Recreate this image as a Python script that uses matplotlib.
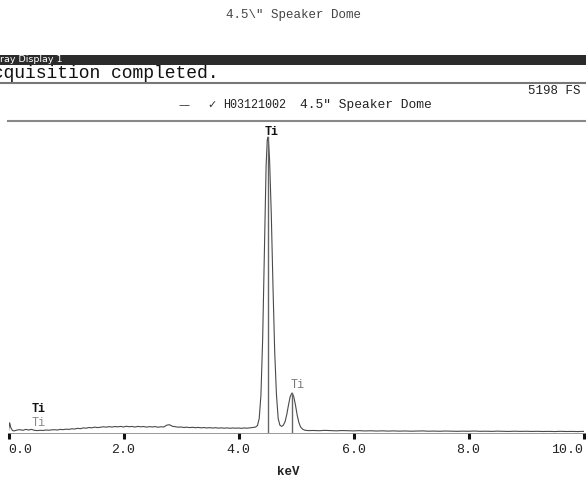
import matplotlib
matplotlib.use("Agg")
import matplotlib.pyplot as plt
from matplotlib.patches import Rectangle
from matplotlib.lines import Line2D

# spectrum (keV, counts), full scale 5198
energy = [0.00, 0.02, 0.04, 0.07, 0.10, 0.15, 0.20, 0.25, 0.30, 0.35, 0.40, 0.45,
          0.50, 0.55, 0.60, 0.65, 0.70, 0.75, 0.80, 0.85, 0.90, 0.95, 1.00, 1.05,
          1.10, 1.15, 1.20, 1.25, 1.30, 1.35, 1.40, 1.45, 1.50, 1.55, 1.60, 1.65,
          1.70, 1.75, 1.80, 1.85, 1.90, 1.95, 2.00, 2.05, 2.10, 2.15, 2.20, 2.25,
          2.30, 2.35, 2.40, 2.45, 2.50, 2.55, 2.60, 2.65, 2.70, 2.75, 2.80, 2.85,
          2.90, 2.95, 3.00, 3.05, 3.10, 3.15, 3.20, 3.25, 3.30, 3.35, 3.40, 3.45,
          3.50, 3.55, 3.60, 3.65, 3.70, 3.75, 3.80, 3.85, 3.90, 3.95, 4.00, 4.05,
          4.10, 4.15, 4.20, 4.25, 4.30, 4.33, 4.36, 4.39, 4.42, 4.45, 4.48, 4.50,
          4.51, 4.52, 4.54, 4.57, 4.60, 4.63, 4.66, 4.69, 4.72, 4.75, 4.78, 4.81,
          4.84, 4.87, 4.90, 4.93, 4.96, 4.99, 5.02, 5.05, 5.08, 5.12, 5.16, 5.22,
          5.30, 5.40, 5.50, 5.60, 5.70, 5.80, 5.90, 6.00, 6.10, 6.20, 6.30, 6.40,
          6.50, 6.60, 6.70, 6.80, 6.90, 7.00, 7.10, 7.20, 7.30, 7.40, 7.50, 7.60,
          7.70, 7.80, 7.90, 8.00, 8.10, 8.20, 8.30, 8.40, 8.50, 8.60, 8.70, 8.80,
          8.90, 9.00, 9.10, 9.20, 9.30, 9.40, 9.50, 9.60, 9.70, 9.80, 9.90, 10.00]
counts = [30, 170, 90, 40, 35, 50, 55, 45, 60, 50, 60, 45,
          40, 45, 42, 50, 46, 52, 55, 50, 60, 56, 64, 60,
          70, 66, 78, 72, 85, 80, 92, 86, 98, 90, 96, 104,
          97, 106, 99, 108, 102, 110, 100, 112, 104, 109, 99, 110,
          103, 108, 98, 106, 101, 107, 96, 104, 100, 130, 138, 112,
          104, 97, 100, 92, 97, 90, 95, 88, 93, 86, 91, 84,
          89, 83, 88, 81, 86, 80, 85, 79, 84, 80, 83, 78,
          84, 80, 86, 92, 100, 125, 240, 630, 1560, 3030, 4450, 4880,
          4930, 4880, 4560, 3650, 2430, 1340, 640, 240, 130, 110, 130, 190,
          310, 470, 610, 666, 610, 470, 300, 175, 100, 60, 45, 40,
          42, 38, 44, 40, 36, 41, 38, 35, 39, 34, 37, 33,
          36, 32, 35, 31, 34, 30, 33, 35, 30, 32, 29, 33,
          30, 28, 31, 29, 33, 28, 30, 27, 31, 28, 26, 30,
          27, 29, 26, 28, 25, 27, 24, 28, 25, 26, 24, 27]
full_scale = 5198

# Ti marker lines (keV, line height)
marker_e = [4.51, 4.93]
marker_top = [4930, 666]
tick_vals = [0, 2, 4, 6, 8, 10]
tick_labels = ["0.0", "2.0", "4.0", "6.0", "8.0", "10.0"]

W, H = 586, 480
mono = "Liberation Mono"

fig = plt.figure(figsize=(W / 100, H / 100), dpi=100)
fig.patch.set_facecolor("white")

def fy(py):
    return 1 - py / H

def fx(px):
    return px / W

# header stuff (screenshot of the acquisition software)
fig.text(0.5, fy(15), '4.5\\" Speaker Dome', ha="center", va="center",
         family=mono, fontsize=9, color="#444444")
fig.add_artist(Rectangle((0, fy(65)), 1, 10 / H, transform=fig.transFigure,
                         color="#2b2b2b", lw=0))
fig.text(0.0, fy(60), "ray Display 1", ha="left", va="center",
         family="DejaVu Sans", fontsize=6.8, color="white")
fig.text(fx(-17.7), fy(73), "Acquisition completed.", ha="left", va="center",
         family=mono, fontsize=13, color="#111111")
fig.add_artist(Line2D([0, 1], [fy(83), fy(83)], transform=fig.transFigure,
                      color="#777777", lw=1.5))
fig.text(fx(581), fy(91), "5198 FS", ha="right", va="center",
         family=mono, fontsize=9, color="#222222")
fig.text(fx(184), fy(105), "\u2014", ha="center", va="center",
         family="DejaVu Sans", fontsize=8, color="#333333")
fig.text(fx(212), fy(105), "\u2713", ha="center", va="center",
         family="DejaVu Sans", fontsize=8, color="#333333")
fig.text(fx(223), fy(105), "H03121002", ha="left", va="center",
         family=mono, fontsize=8.5, color="#222222")
fig.text(fx(300), fy(105), '4.5" Speaker Dome', ha="left", va="center",
         family=mono, fontsize=9.3, color="#222222")
fig.add_artist(Line2D([fx(8), 1], [fy(121), fy(121)], transform=fig.transFigure,
                      color="#888888", lw=1.5))

# spectrum axes
ax = fig.add_axes([fx(8.5), fy(433), fx(575), (433 - 121) / H])
ax.plot(energy, counts, color="#4a4a4a", lw=0.8)
for e, top in zip(marker_e, marker_top):
    ax.plot([e, e], [0, top], color="#666666", lw=1)

ax.text(4.58, 5015, "Ti", ha="center", va="center", family=mono,
        fontsize=8.5, fontweight="bold", color="#111111")
ax.text(5.03, 800, "Ti", ha="center", va="center", family=mono,
        fontsize=8.5, color="#777777")
ax.text(0.53, 400, "Ti", ha="center", va="center", family=mono,
        fontsize=8.5, fontweight="bold", color="#111111")
ax.text(0.53, 170, "Ti", ha="center", va="center", family=mono,
        fontsize=8.5, color="#888888")

ax.set_xlim(0, 10)
ax.set_ylim(0, full_scale)
ax.set_facecolor("none")
for s in ["top", "left", "right"]:
    ax.spines[s].set_visible(False)
ax.spines["bottom"].set_color("#888888")
ax.spines["bottom"].set_linewidth(0.6)
ax.set_yticks([])
ax.set_xticks(tick_vals)
ax.set_xticklabels(tick_labels, family=mono, fontsize=9.5, color="#222222")
ax.tick_params(axis="x", direction="out", length=4, width=2.2, color="#111111", pad=4)
lbls = ax.get_xticklabels()
lbls[0].set_ha("left")
lbls[-1].set_ha("right")

fig.text(fx(288), fy(472), "keV", ha="center", va="center", family=mono,
         fontsize=9, fontweight="bold", color="#222222")

fig.savefig("out.png", dpi=100)
